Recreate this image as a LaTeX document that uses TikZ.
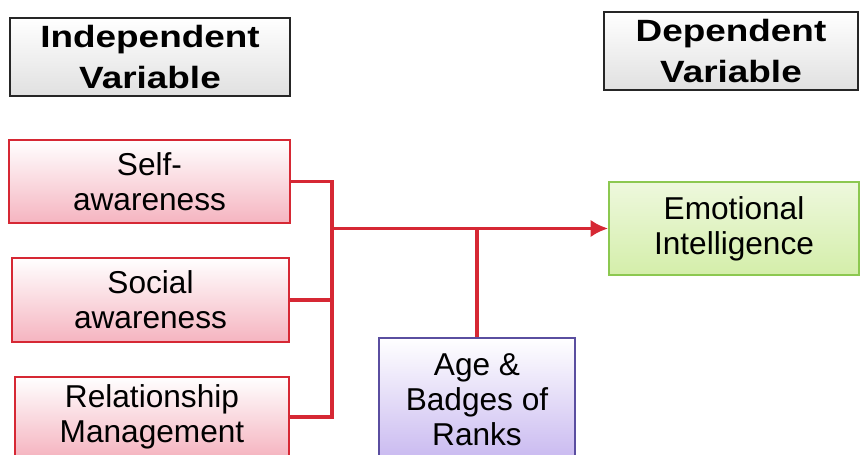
\documentclass[tikz,border=0pt]{standalone}
\usepackage{fontspec}
\setmainfont{Liberation Sans}
\newfontfamily\headfont[FakeStretch=1.2]{Liberation Sans}
\usetikzlibrary{arrows.meta}
\tikzset{
  box/.style={
    draw,
    line width=1pt,
    align=center,
    inner sep=0pt,
    font=\fontsize{18}{20}\selectfont
  },
  box-head/.style={
    box,
    draw=black!85,
    top color=white,
    bottom color=black!12,
    font=\headfont\bfseries\fontsize{17.5}{23}\selectfont
  },
  box-red/.style={
    box,
    draw=linkred,
    top color=white,
    bottom color=pinkfill
  },
  box-green/.style={
    box,
    draw=greenline,
    top color=white!60!greenfill,
    bottom color=greenfill
  },
  box-purple/.style={
    box,
    draw=purpleline,
    top color=white,
    bottom color=purplefill
  },
  link/.style={draw=linkred, line width=2pt},
  link-arrow/.style={link, -{Latex[length=10pt,width=10pt]}}
}
\definecolor{linkred}{RGB}{214,40,52}
\definecolor{pinkfill}{RGB}{245,180,192}
\definecolor{greenline}{RGB}{140,200,80}
\definecolor{greenfill}{RGB}{212,238,170}
\definecolor{purpleline}{RGB}{90,78,160}
\definecolor{purplefill}{RGB}{200,184,240}

\begin{document}
\begin{tikzpicture}[x=0.02cm, y=-0.02cm]
  \useasboundingbox (0,0) rectangle (860,455);
  % headings
  \node[box-head, minimum width=5.6cm, minimum height=1.56cm] (indep) at (150,57) {Independent\\Variable};
  \node[box-head, minimum width=5.08cm, minimum height=1.56cm] (dep) at (731,51) {Dependent\\Variable};
  % independent variables
  \node[box-red, minimum width=5.62cm, minimum height=1.66cm] (self) at (149.5,181.5) {Self-\\awareness};
  \node[box-red, minimum width=5.54cm, minimum height=1.68cm] (social) at (150.5,300) {Social\\awareness};
  \node[box-red, minimum width=5.48cm, minimum height=1.6cm] (relation) at (152,417) {Relationship\\Management};
  % dependent variable and moderator
  \node[box-green, minimum width=5cm, minimum height=1.86cm] (emotion) at (734,228.5) {Emotional\\Intelligence};
  \node[box-purple, minimum width=3.92cm, minimum height=2.48cm] (age) at (477,400) {Age \&\\Badges of\\Ranks};
  % connectors
  \coordinate (join) at (332,228.5);
  \draw[link] (self.east) -| (join);
  \draw[link] (social.east) -| (join);
  \draw[link] (relation.east) -| (join);
  \draw[link-arrow] (join) -- (emotion.west);
  \draw[link] (age.north) -- (age.north |- join);
\end{tikzpicture}
\end{document}
